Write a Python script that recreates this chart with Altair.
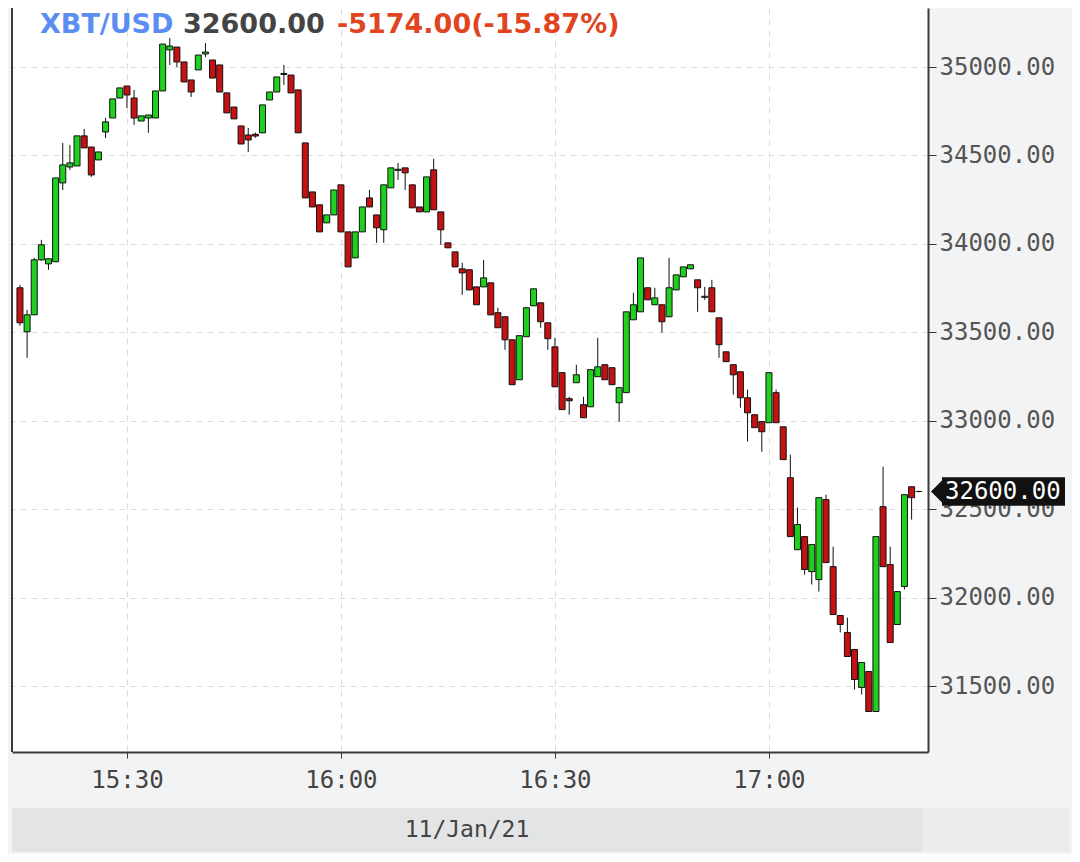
import altair as alt
import pandas as pd

# ---- data (1-minute candles, 11 Jan 2021, from 15:15) ----
start = "2021-01-11 15:15"
opens = [33752, 33503, 33599, 33910, 33887, 33899, 34345, 34435, 34441, 34611,
         34548, 34475, 34633, 34712, 34825, 34893, 34825, 34695, 34712, 34712,
         34865, 35097, 35113, 35029, 34927, 34984, 35074, 35040, 35012, 34854,
         34774, 34667, 34616, 34620, 34628, 34814, 34859, 34958, 34955, 34871,
         34571, 34294, 34221, 34119, 34164, 34334, 34068, 33921, 34068, 34260,
         34164, 34080, 34317, 34416, 34430, 34334, 34209, 34181, 34419, 34181,
         34006, 33955, 33859, 33854, 33757, 33757, 33780, 33611, 33588, 33458,
         33232, 33475, 33650, 33667, 33554, 33418, 33272, 33125, 33215, 33091,
         33079, 33249, 33317, 33300, 33102, 33159, 33571, 33616, 33752, 33656,
         33656, 33588, 33740, 33814, 33859, 33797, 33698, 33752, 33582, 33390,
         33317, 33277, 33130, 33034, 32995, 32989, 33159, 32966, 32678, 32271,
         32345, 32147, 32102, 32554, 32175, 31899, 31803, 31707, 31492, 31582,
         31356, 32514, 32187, 31848, 32063, 32627, 32600]
highs = [33769, 33627, 33921, 34023, 33916, 34373, 34571, 34560, 34611, 34650,
         34548, 34520, 34712, 34820, 34882, 34893, 34871, 34724, 34729, 34865,
         35130, 35164, 35113, 35029, 34927, 35068, 35136, 35040, 35012, 34854,
         34774, 34667, 34656, 34630, 34786, 34859, 34944, 35012, 34955, 34871,
         34571, 34294, 34221, 34164, 34305, 34334, 34068, 34068, 34209, 34305,
         34164, 34334, 34430, 34458, 34430, 34334, 34209, 34379, 34481, 34181,
         34006, 33955, 33893, 33854, 33757, 33910, 33780, 33639, 33588, 33458,
         33481, 33639, 33746, 33667, 33554, 33469, 33272, 33136, 33317, 33136,
         33289, 33469, 33317, 33300, 33187, 33616, 33724, 33921, 33752, 33752,
         33656, 33921, 33825, 33870, 33882, 33797, 33757, 33797, 33582, 33390,
         33317, 33277, 33176, 33034, 32995, 33272, 33176, 32966, 32808, 32509,
         32345, 32300, 32565, 32582, 32288, 31899, 31887, 31707, 31633, 31582,
         32345, 32740, 32288, 32034, 32582, 32627, 32605]
lows = [33537, 33356, 33599, 33905, 33854, 33899, 34305, 34418, 34441, 34543,
        34379, 34475, 34599, 34712, 34825, 34769, 34673, 34695, 34628, 34712,
        34865, 35012, 35000, 34916, 34831, 34984, 35057, 34938, 34859, 34741,
        34707, 34565, 34520, 34600, 34628, 34814, 34859, 34899, 34854, 34628,
        34260, 34209, 34068, 34119, 34164, 34068, 33870, 33921, 34068, 34209,
        34006, 34006, 34317, 34362, 34305, 34204, 34181, 34181, 34193, 33995,
        33978, 33870, 33712, 33740, 33656, 33757, 33599, 33526, 33401, 33204,
        33232, 33475, 33650, 33526, 33401, 33192, 33063, 33034, 33215, 33017,
        33079, 33249, 33232, 33204, 32995, 33159, 33571, 33616, 33684, 33656,
        33498, 33588, 33740, 33814, 33859, 33616, 33684, 33616, 33356, 33334,
        33147, 33074, 32882, 32961, 32825, 32989, 32989, 32780, 32345, 32271,
        32130, 32074, 32034, 32198, 31904, 31803, 31667, 31480, 31452, 31356,
        31356, 32175, 31746, 31848, 32046, 32441, 32595]
closes = [33554, 33599, 33910, 33995, 33916, 34373, 34447, 34458, 34611, 34543,
          34390, 34520, 34690, 34820, 34882, 34842, 34712, 34724, 34729, 34865,
          35130, 35119, 35029, 34916, 34859, 35068, 35085, 34938, 34859, 34741,
          34707, 34565, 34588, 34610, 34786, 34859, 34944, 34964, 34854, 34628,
          34260, 34209, 34068, 34164, 34305, 34068, 33870, 34068, 34209, 34209,
          34091, 34334, 34430, 34422, 34402, 34204, 34181, 34379, 34193, 34080,
          33978, 33870, 33836, 33740, 33656, 33808, 33599, 33526, 33458, 33204,
          33481, 33639, 33746, 33560, 33464, 33192, 33063, 33113, 33260, 33017,
          33289, 33305, 33232, 33204, 33187, 33616, 33656, 33921, 33684, 33695,
          33560, 33752, 33825, 33870, 33882, 33752, 33704, 33616, 33430, 33334,
          33260, 33130, 33045, 32961, 32938, 33272, 32989, 32780, 32345, 32413,
          32159, 32300, 32565, 32198, 31904, 31848, 31667, 31537, 31633, 31356,
          32345, 32175, 31746, 32034, 32582, 32565, 32600]

y_ticks = [31500, 32000, 32500, 33000, 33500, 34000, 34500, 35000]
symbol = ["XBT/USD"]
last_price = ["32600.00"]
change = ["-5174.00(-15.87%)"]
date_label = ["11/Jan/21"]
last_value = 32600

times = pd.date_range(start, periods=len(opens), freq="min").strftime("%Y-%m-%dT%H:%M:%S")
df = pd.DataFrame({"time": list(times), "open": opens, "high": highs,
                   "low": lows, "close": closes})
df["dir"] = ["up" if c >= o else "down" for o, c in zip(opens, closes)]

FONT = "DejaVu Sans Mono"
x_axis = alt.Axis(
    title=None, format="%H:%M",
    values=[alt.DateTime(year=2021, month=1, date=11, hours=h, minutes=m)
            for h, m in [(15, 30), (16, 0), (16, 30), (17, 0)]],
    grid=True, gridDash=[6, 5], gridColor="#dcdcdc",
    domainColor="#3a3a3a", domainWidth=2, tickColor="#3a3a3a", tickSize=6,
    labelFont=FONT, labelFontSize=24, labelColor="#444444", labelPadding=10,
    labelFlush=False)
y_axis = alt.Axis(
    title=None, orient="right", values=y_ticks, format=".2f",
    grid=True, gridDash=[6, 5], gridColor="#dcdcdc",
    domainColor="#3a3a3a", domainWidth=2, tickColor="#3a3a3a", tickSize=8,
    labelFont=FONT, labelFontSize=24, labelColor="#555555", labelPadding=3,
    labelFlush=False, labelOverlap=False)
x_scale = alt.Scale(domain=[
    alt.DateTime(year=2021, month=1, date=11, hours=15, minutes=13, seconds=53),
    alt.DateTime(year=2021, month=1, date=11, hours=17, minutes=22, seconds=18)],
    padding=0)
y_scale = alt.Scale(domain=[31127, 35334], zero=False, nice=False)

base = alt.Chart(df)
wicks = base.mark_rule(color="#111111", strokeWidth=1).encode(
    x=alt.X("time:T", scale=x_scale, axis=x_axis),
    y=alt.Y("low:Q", scale=y_scale, axis=y_axis),
    y2="high:Q")
bodies = base.mark_bar(size=6, stroke="#111111", strokeWidth=1).encode(
    x=alt.X("time:T", scale=x_scale, axis=x_axis),
    y=alt.Y("open:Q", scale=y_scale, axis=y_axis),
    y2="close:Q",
    fill=alt.Fill("dir:N", scale=alt.Scale(domain=["up", "down"],
                                            range=["#1fd01f", "#c41212"]),
                  legend=None))

one = pd.DataFrame({"k": [0]})
left_border = alt.Chart(one).mark_rule(color="#3a3a3a", strokeWidth=2).encode(
    x=alt.value(0), y=alt.value(0), y2=alt.value(744))

t1 = alt.Chart(pd.DataFrame({"label": symbol})).mark_text(
    font="DejaVu Sans", fontSize=27, fontWeight="bold", color="#5b8ef0",
    align="left", baseline="alphabetic").encode(
    text="label:N", x=alt.value(28), y=alt.value(25))
t2 = alt.Chart(pd.DataFrame({"label": last_price})).mark_text(
    font="DejaVu Sans", fontSize=27, fontWeight="bold", color="#444444",
    align="left", baseline="alphabetic").encode(
    text="label:N", x=alt.value(171), y=alt.value(25))
t3 = alt.Chart(pd.DataFrame({"label": change})).mark_text(
    font="DejaVu Sans", fontSize=27, fontWeight="bold", color="#e0451f",
    align="left", baseline="alphabetic").encode(
    text="label:N", x=alt.value(325), y=alt.value(25))

price_box = alt.Chart(one).mark_rect(color="#111111").encode(
    x=alt.value(930), x2=alt.value(1053),
    y=alt.datum(last_value + 80, type="quantitative", scale=y_scale),
    y2=alt.datum(last_value - 80))
price_arrow = alt.Chart(one).mark_point(
    shape="M -1 0 L 1 -2 L 1 2 Z", size=144, filled=True, color="#111111",
    opacity=1, strokeWidth=0).encode(
    x=alt.value(925), y=alt.datum(last_value, type="quantitative", scale=y_scale))
price_text = alt.Chart(pd.DataFrame({"label": last_price})).mark_text(
    font=FONT, fontSize=24, color="white", align="left", baseline="middle").encode(
    text="label:N", x=alt.value(933),
    y=alt.datum(last_value, type="quantitative", scale=y_scale))

band = alt.Chart(one).mark_rect(color="#e3e4e6").encode(
    x=alt.value(0), x2=alt.value(910), y=alt.value(800), y2=alt.value(844))
band2 = alt.Chart(one).mark_rect(color="#ebecee").encode(
    x=alt.value(910), x2=alt.value(1058), y=alt.value(800), y2=alt.value(844))
band_text = alt.Chart(pd.DataFrame({"label": date_label})).mark_text(
    font=FONT, fontSize=23, color="#444444", align="center", baseline="middle").encode(
    text="label:N", x=alt.value(455), y=alt.value(822))

chart = alt.layer(
    wicks, bodies, left_border, t1, t2, t3, price_box, price_arrow, price_text,
    band, band2, band_text
).properties(
    width=916, height=744,
    autosize=alt.AutoSizeParams(type="none"),
    padding={"left": 4, "top": 0, "right": 144, "bottom": 102},
).configure(background="#f2f3f5").configure_view(fill="white", stroke=None)

chart.save("out.html", embed_options={"renderer": "svg", "actions": False})
